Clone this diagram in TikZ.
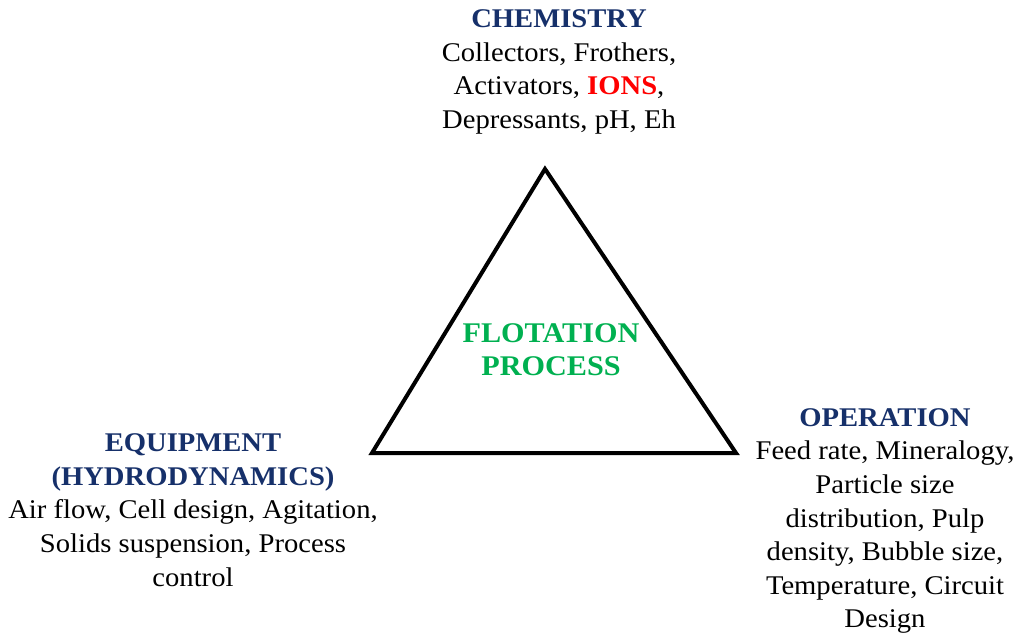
\documentclass[tikz,border=0pt]{standalone}
\usepackage{fontspec}
\setmainfont[FakeStretch=1.06]{Liberation Serif}
\definecolor{navy}{HTML}{16306A}
\definecolor{flgreen}{HTML}{00B050}
\definecolor{ionred}{HTML}{FF0000}
\begin{document}
\begin{tikzpicture}[x=1pt,y=-1pt,
  txt/.style={align=center,inner sep=0pt,font=\fontsize{27}{33.6}\selectfont}]
\useasboundingbox (0,0) rectangle (1018,639);
\coordinate (top) at (545,169);
\coordinate (bl) at (372,453);
\coordinate (br) at (736,453);
\draw[line width=4pt,line join=miter] (top) -- (bl) -- (br) -- cycle;
\node[txt] (chem) at (559,72) {{\bfseries\color{navy}CHEMISTRY}\\Collectors, Frothers,\\Activators, {\bfseries\color{ionred}IONS},\\Depressants, pH, Eh};
\node[txt,font=\fontsize{28.5}{33}\selectfont\bfseries,text=flgreen] (flot) at (551,350) {FLOTATION\\PROCESS};
\node[txt] (equip) at (193,510) {{\bfseries\color{navy}EQUIPMENT}\\{\bfseries\color{navy}(HYDRODYNAMICS)}\\Air flow, Cell design, Agitation,\\Solids suspension, Process\\control};
\node[txt] (oper) at (885,521) {{\bfseries\color{navy}OPERATION}\\Feed rate, Mineralogy,\\Particle size\\distribution, Pulp\\density, Bubble size,\\Temperature, Circuit\\Design};
\end{tikzpicture}
\end{document}
